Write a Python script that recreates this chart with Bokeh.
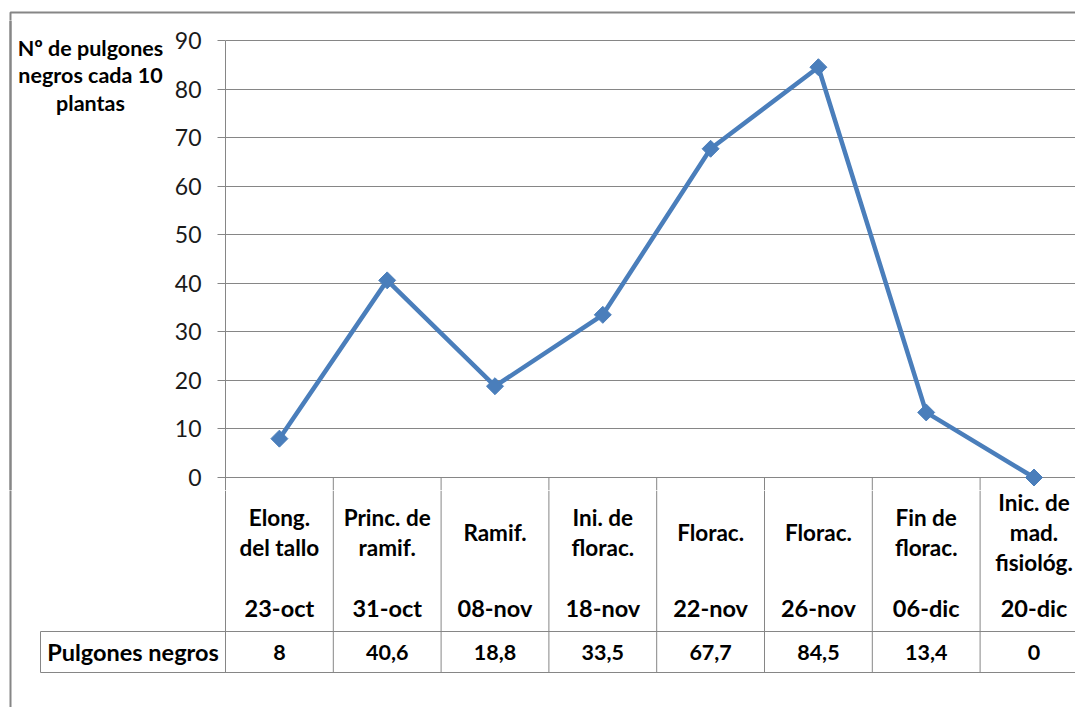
import math

from bokeh.plotting import figure
from bokeh.layouts import column, row
from bokeh.models import Range1d, FixedTicker, Span
from bokeh.embed import file_html
from bokeh.resources import INLINE
from bokeh.core.properties import value

# --- data -------------------------------------------------------------
stages = [
    "Elong.\ndel tallo",
    "Princ. de\nramif.",
    "Ramif.",
    "Ini. de\nflorac.",
    "Florac.",
    "Florac.",
    "Fin de\nflorac.",
    "Inic. de\nmad.\nfisiológ.",
]
dates = ["23-oct", "31-oct", "08-nov", "18-nov", "22-nov", "26-nov", "06-dic", "20-dic"]
pulgones = [8, 40.6, 18.8, 33.5, 67.7, 84.5, 13.4, 0]
y_ticks = [0, 10, 20, 30, 40, 50, 60, 70, 80, 90]
series_name = "Pulgones negros"
y_title = "Nº de pulgones\nnegros cada 10\nplantas"

# --- page layout (pixels) ---------------------------------------------
W, H = 1075, 707
STRIP = 20          # top strip holding the upper border line
EDGE = 16           # narrow column holding the left border line
SIDE = 170          # left panel (edge column + axis title)
AXIS_W = 55         # room for the value-axis ticks and labels
LEFT = SIDE + AXIS_W
TOP = 40            # y of the 90 gridline
ZERO = 477          # zero line = top of the data table
CHART_BOT = 490     # chart panel ends here, table panel starts
HEAD_BOT = 631      # bottom of the category row
TAB_BOT = 672       # bottom of the values row
BORDER_X, BORDER_Y = 10, 12
CELL_LEFT = 40
COL = 107.8         # width of one category column

GRID = "#868686"
BLUE = "#4A7EBB"
FONT = "Lato"

unit = (ZERO - TOP) / (y_ticks[-1] - y_ticks[0])


def xpx(px):
    """page x (pixels) -> category units"""
    return (px - LEFT) / COL


def blank(width, height, x_range, y_range):
    f = figure(width=width, height=height, x_range=x_range, y_range=y_range,
               x_axis_location=None, y_axis_location=None, min_border=0,
               toolbar_location=None, output_backend="svg")
    f.outline_line_color = None
    f.grid.visible = False
    f.background_fill_color = "white"
    f.border_fill_color = "white"
    return f


def bold(size):
    return dict(text_align="center", text_baseline="middle", text_font=value(FONT),
                text_font_style="bold", text_font_size=size, text_color="black")


n = len(pulgones)
xs = [i + 0.5 for i in range(n)]
bounds = list(range(1, n + 1))

# --- top strip: upper border line ---------------------------------------
strip = blank(W, STRIP, Range1d(xpx(0), xpx(W)), Range1d(STRIP, 0))
strip.line(x=[xpx(BORDER_X), xpx(BORDER_X), xpx(W + 20)], y=[STRIP + 5, BORDER_Y, BORDER_Y],
           line_color=GRID, line_width=2)

mid_h = CHART_BOT - STRIP

# --- narrow column: left border line ------------------------------------
edge = blank(EDGE, mid_h, Range1d(0, EDGE), Range1d(0, mid_h))
edge.quad(left=[BORDER_X - 1], right=[BORDER_X + 1], bottom=[-5], top=[mid_h + 5],
          fill_color=GRID, line_color=None)
edge.add_layout(Span(location=BORDER_X, dimension="height", line_color=GRID, line_width=2))

# --- left panel: axis title ----------------------------------------------
side = blank(SIDE - EDGE, mid_h, Range1d(EDGE, SIDE), Range1d(0, mid_h))
side.text(x=[90], y=[CHART_BOT - 75], text=[y_title], text_line_height=1.07,
          **bold("21.5px"))

# --- chart ----------------------------------------------------------------
y_end = y_ticks[-1] + (TOP - STRIP) / unit
y_start = -(CHART_BOT - ZERO) / unit
x_end = (W - LEFT) / COL

p = figure(
    width=W - SIDE, height=mid_h,
    x_range=Range1d(0, x_end), y_range=Range1d(y_start, y_end),
    x_axis_location=None,
    min_border_left=AXIS_W, min_border_right=0, min_border_top=0, min_border_bottom=0,
    toolbar_location=None, output_backend="svg",
)
p.outline_line_color = None
p.background_fill_color = "white"
p.border_fill_color = "white"

p.xgrid.visible = False
p.ygrid.ticker = FixedTicker(ticks=y_ticks)
p.ygrid.grid_line_color = GRID
p.ygrid.grid_line_width = 1

ax = p.yaxis[0]
ax.ticker = FixedTicker(ticks=y_ticks)
ax.bounds = (y_start, y_ticks[-1])
ax.axis_line_color = GRID
ax.major_tick_line_color = GRID
ax.major_tick_out = 8
ax.major_tick_in = 0
ax.minor_tick_line_color = None
ax.major_label_standoff = 16
ax.major_label_text_font = FONT
ax.major_label_text_font_size = "23px"
ax.major_label_text_color = "#1a1a1a"

# upper part of the table column separators
p.segment(x0=bounds, y0=[y_start] * n, x1=bounds, y1=[0] * n, line_color=GRID, line_width=1)

p.line(x=xs, y=pulgones, line_color=BLUE, line_width=4.5)
p.scatter(x=xs, y=pulgones, marker="square", angle=math.pi / 4, size=12,
          fill_color=BLUE, line_color=BLUE)

# --- data table -----------------------------------------------------------
tab_h = H - CHART_BOT
table = blank(W, tab_h, Range1d(xpx(0), xpx(W)), Range1d(H, CHART_BOT))
table.line(x=[xpx(BORDER_X), xpx(BORDER_X)], y=[CHART_BOT - 5, H + 5],
           line_color=GRID, line_width=2)
# vertical separators (axis column + category columns)
table.segment(x0=[0] + bounds, y0=[CHART_BOT] * (n + 1),
              x1=[0] + bounds, y1=[TAB_BOT] * (n + 1), line_color=GRID, line_width=1)
# left edge of the series-name cell
table.segment(x0=[xpx(CELL_LEFT)], y0=[HEAD_BOT], x1=[xpx(CELL_LEFT)], y1=[TAB_BOT],
              line_color=GRID, line_width=1)
# horizontal rules of the values row
table.segment(x0=[xpx(CELL_LEFT)] * 2, y0=[HEAD_BOT, TAB_BOT],
              x1=[xpx(W + 20)] * 2, y1=[HEAD_BOT, TAB_BOT], line_color=GRID, line_width=1)

table.text(x=xs, y=[532] * n, text=stages, text_line_height=1.1, **bold("22.5px"))
table.text(x=xs, y=[607] * n, text=dates, **bold("23.5px"))
table.text(x=xs, y=[651.5] * n, text=[f"{v:g}".replace(".", ",") for v in pulgones],
           **bold("21.5px"))
table.text(x=[xpx((CELL_LEFT + LEFT) / 2)], y=[651.5], text=[series_name], **bold("23.5px"))

layout = column(strip, row(edge, side, p, spacing=0), table, spacing=0)
open("out.html", "w").write(file_html(layout, INLINE))
